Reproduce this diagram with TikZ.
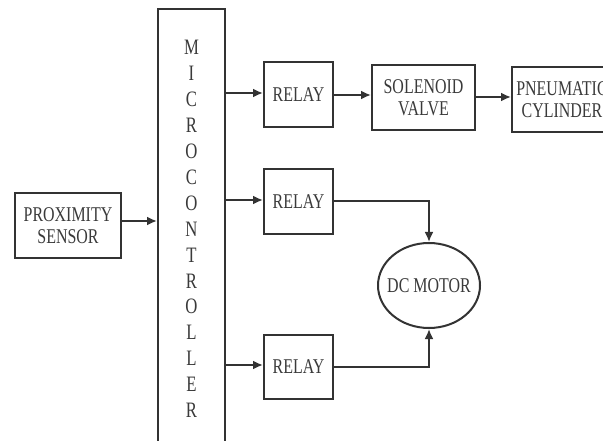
\documentclass[tikz,border=0pt]{standalone}
\usepackage{fontspec}
\setmainfont{Liberation Serif}
\newfontfamily\condfont[FakeStretch=0.76]{Liberation Serif}
\usetikzlibrary{arrows.meta,shapes.geometric}
\definecolor{ink}{HTML}{333333}
\definecolor{txt}{HTML}{3a3a3a}
\begin{document}
\begin{tikzpicture}[x=1pt,y=-1pt,
  blk/.style={draw=ink,line width=2pt,rectangle,inner sep=0pt,text=txt,align=center,
    font=\condfont\fontsize{21}{22}\selectfont},
  conn/.style={draw=ink,line width=2pt,-{Latex[length=10pt,width=9pt]}}]
\useasboundingbox (0,0) rectangle (603,441);
\clip (0,0) rectangle (603,441);
\fill[white] (0,0) rectangle (603,441);
\node[blk,minimum width=106pt,minimum height=65pt] (prox) at (68,225.5) {PROXIMITY\\SENSOR};
\node[blk,minimum width=67pt,minimum height=440pt,font=\condfont\fontsize{22}{25.9}\selectfont] (mc) at (191.5,229)
  {M\\I\\C\\R\\O\\C\\O\\N\\T\\R\\O\\L\\L\\E\\R};
\node[blk,minimum width=69pt,minimum height=65pt] (r1) at (298.5,94.5) {RELAY};
\node[blk,minimum width=69pt,minimum height=65pt] (r2) at (298.5,201.5) {RELAY};
\node[blk,minimum width=69pt,minimum height=64pt] (r3) at (298.5,367) {RELAY};
\node[blk,minimum width=103pt,minimum height=65pt] (sv) at (423.5,97.5) {SOLENOID\\VALVE};
\node[blk,minimum width=100pt,minimum height=65pt] (pc) at (562,99.5) {PNEUMATIC\\CYLINDER};
\node[blk,ellipse,minimum width=102pt,minimum height=85pt,inner sep=0pt] (dc) at (429,285.5) {\makebox[0pt]{DC MOTOR}};
\draw[conn] (prox.east |- 0,221) -- (mc.west |- 0,221);
\draw[conn] (mc.east |- 0,93) -- (r1.west |- 0,93);
\draw[conn] (mc.east |- 0,200) -- (r2.west |- 0,200);
\draw[conn] (mc.east |- 0,365) -- (r3.west |- 0,365);
\draw[conn] (r1.east |- 0,95) -- (sv.west |- 0,95);
\draw[conn] (sv.east |- 0,97) -- (pc.west |- 0,97);
\draw[conn] (r2.east) -| (dc.north);
\draw[conn] (r3.east) -| (dc.south);
\end{tikzpicture}
\end{document}
